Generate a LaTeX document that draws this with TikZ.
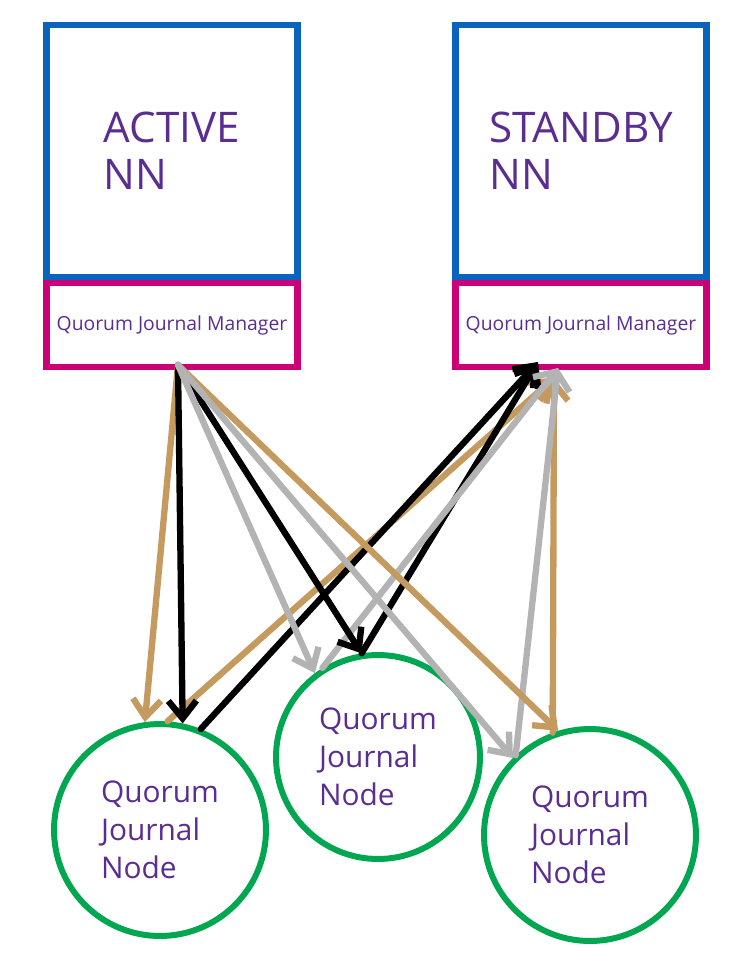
\documentclass[tikz,border=0pt]{standalone}
\usepackage{fontspec}
\setmainfont{Open Sans}
\usetikzlibrary{arrows.meta}
\definecolor{nnblue}{HTML}{0A64BE}
\definecolor{jmpink}{HTML}{CC0077}
\definecolor{jngreen}{HTML}{00A650}
\definecolor{txtpurple}{HTML}{5A2D91}
\definecolor{linktan}{HTML}{C49A5E}
\definecolor{linkgray}{HTML}{B3B3B3}
\begin{document}
\begin{tikzpicture}[x=0.02cm,y=-0.02cm,
	nnbox/.style={draw=nnblue, line width=3.8pt, minimum width=5.02cm, minimum height=5.04cm, align=left, text=txtpurple, font=\fontsize{24}{27}\selectfont},
	jmbox/.style={draw=jmpink, line width=3.8pt, minimum width=5.02cm, minimum height=1.68cm, text=txtpurple, font=\fontsize{11}{13}\selectfont},
	jnode/.style={circle, draw=jngreen, line width=3.4pt, minimum size=4.24cm, align=left, text=txtpurple, font=\fontsize{17}{21.5}\selectfont},
	link/.style={line width=3.6pt, line cap=round, line join=round, -{Straight Barb[length=10pt,width=16pt]}}]
	\useasboundingbox (0,0) rectangle (750,962);
	\node[nnbox] (an) at (172,151) {ACTIVE\\NN};
	\node[nnbox] (sn) at (581,151) {STANDBY\\NN};
	\node[jmbox] (aj) at (172,325) {Quorum Journal Manager};
	\node[jmbox] (sj) at (581,325) {Quorum Journal Manager};
	\node[jnode] (j1) at (160,830) {Quorum\\Journal\\Node};
	\node[jnode, minimum size=4.08cm] (j2) at (378,757) {Quorum\\Journal\\Node};
	\node[jnode] (j3) at (590,835) {Quorum\\Journal\\Node};
	\coordinate (aout) at (178,365);
	\coordinate (sin1) at (538,362);
	\coordinate (sin2) at (558,368);
	\coordinate (sin3) at (554,378);
	% standby reads from every journal node
	\draw[link, linktan] (j1.86) -- (sin3);
	\draw[link, linktan] (j3.110) -- (sin3);
	\draw[link] (j1.68) -- (sin1);
	\draw[link] (j2.99) -- (sin1);
	\draw[link, linkgray] (j2.122) -- (sin2);
	\draw[link, linkgray] (j3.133) -- (sin2);
	% active writes to every journal node
	\draw[link, linktan] (aout) -- (j1.98);
	\draw[link, linktan] (aout) -- (j3.107);
	\draw[link] (aout) -- (j1.78);
	\draw[link] (aout) -- (j2.99);
	\draw[link, linkgray] (aout) -- (j2.127);
	\draw[link, linkgray] (aout) -- (j3.135);
\end{tikzpicture}
\end{document}
